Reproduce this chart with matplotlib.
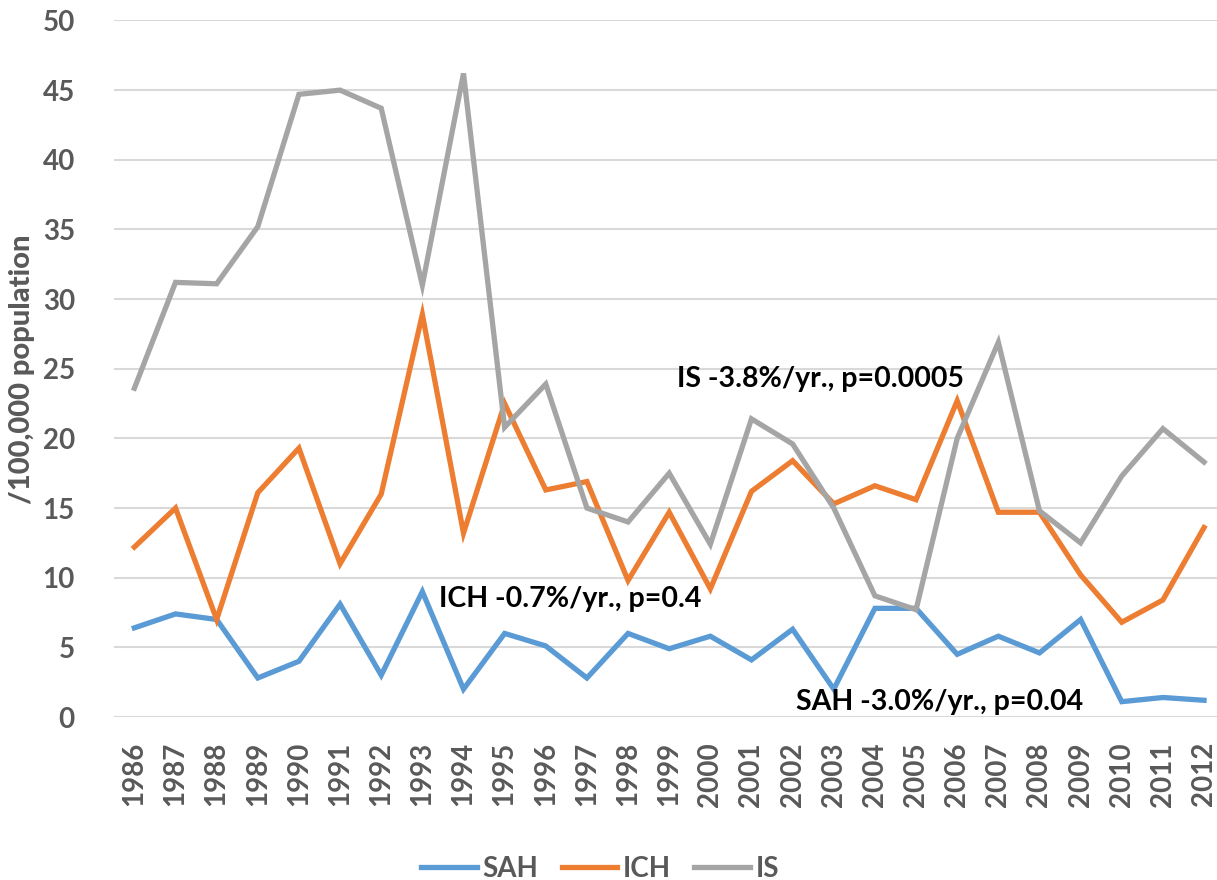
import matplotlib
matplotlib.use("Agg")
import matplotlib.pyplot as plt
import numpy as np

years = [str(y) for y in range(1986, 2013)]
sah = [6.4, 7.4, 7.0, 2.8, 4.0, 8.1, 3.0, 9.0, 2.0, 6.0, 5.1, 2.8, 6.0, 4.9, 5.8,
       4.1, 6.3, 2.0, 7.8, 7.8, 4.5, 5.8, 4.6, 7.0, 1.1, 1.4, 1.2]
ich = [12.2, 15.0, 7.0, 16.1, 19.3, 11.0, 16.0, 28.9, 13.2, 22.5, 16.3, 16.9, 9.8,
       14.7, 9.2, 16.2, 18.4, 15.3, 16.6, 15.6, 22.7, 14.7, 14.7, 10.2, 6.8, 8.4, 13.6]
is_ = [23.6, 31.2, 31.1, 35.2, 44.7, 45.0, 43.7, 31.0, 46.2, 20.8, 23.9, 15.0, 14.0,
       17.5, 12.4, 21.4, 19.6, 15.0, 8.7, 7.7, 20.0, 26.9, 14.8, 12.5, 17.3, 20.7, 18.3]
series_names = ["SAH", "ICH", "IS"]
annotations = ["IS -3.8%/yr., p=0.0005", "ICH -0.7%/yr., p=0.4", "SAH -3.0%/yr., p=0.04"]
yticks = [0, 5, 10, 15, 20, 25, 30, 35, 40, 45, 50]

plt.rcParams['font.family'] = ['Lato', 'DejaVu Sans']

W, H = 1217, 880
fig = plt.figure(figsize=(W / 100, H / 100), dpi=100)
left = 113.8 / W
right = 1224.6 / W
bottom = 1 - 717 / H
top = 1 - 20.5 / H
ax = fig.add_axes([left, bottom, right - left, top - bottom])

x = np.arange(len(years))
colors = ["#5B9BD5", "#ED7D31", "#A5A5A5"]
lines = []
for data, name, c in zip([sah, ich, is_], series_names, colors):
    ln, = ax.plot(x, data, color=c, lw=3.8, label=name, solid_joinstyle='miter', zorder=3)
    lines.append(ln)

ax.set_xlim(-0.5, len(years) - 0.5)
ax.set_ylim(0, 50)
ax.set_yticks(yticks)
ax.set_xticks(x)
ax.set_xticklabels(years, rotation=90)
for s in ax.spines.values():
    s.set_visible(False)
ax.grid(axis='y', color='#D9D9D9', lw=1.5, zorder=0)
ax.tick_params(axis='both', length=0, labelsize=20, labelcolor='#595959')
ax.tick_params(axis='y', pad=28)
ax.tick_params(axis='x', pad=18)
for lab in ax.get_xticklabels() + ax.get_yticklabels():
    lab.set_fontweight('bold')

fig.text(22 / W, 1 - 369 / H, "/100,000 population", rotation=90, ha='center', va='center',
         fontsize=21, fontweight=900, color='#595959')

ann_kw = dict(fontsize=20.5, fontweight='bold', color='black', ha='left', va='center', zorder=4)
ax.text(13.19, 24.3, annotations[0], **ann_kw)
ax.text(7.40, 8.5, annotations[1], **ann_kw)
ax.text(16.08, 1.1, annotations[2], **ann_kw)

leg = fig.legend(handles=lines, labels=series_names, loc='center', bbox_to_anchor=(600 / W, 1 - 869 / H),
                 ncol=3, frameon=False, prop={'size': 20, 'weight': 'bold'}, handlelength=2.0,
                 handletextpad=0.2, columnspacing=0.85, borderpad=0)
for t in leg.get_texts():
    t.set_color('#595959')

fig.savefig("out.png", dpi=100)
